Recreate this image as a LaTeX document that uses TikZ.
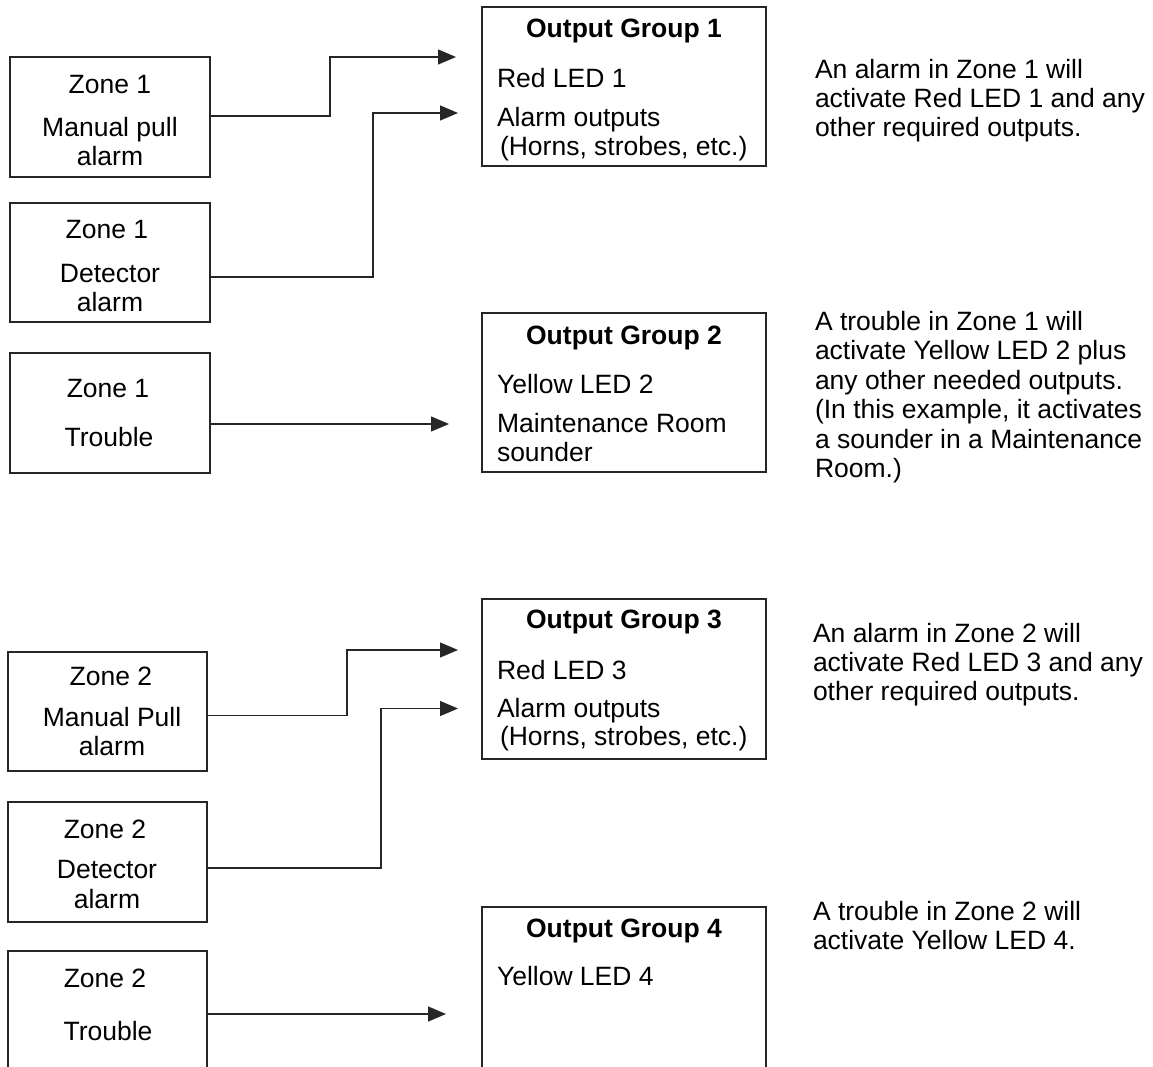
\documentclass[tikz,border=0pt]{standalone}
\usepackage{fontspec}
\setmainfont{Liberation Sans}
\usetikzlibrary{arrows.meta}
\tikzset{
  box/.style={draw=black!85, line width=1.2pt, inner sep=0pt, outer sep=0pt, rectangle},
  txt/.style={inner sep=0pt, outer sep=0pt, font=\fontsize{26.5}{29.5}\selectfont},
  ctr/.style={txt, anchor=base},
  lft/.style={txt, anchor=base west},
  ttl/.style={txt, anchor=base, font=\fontsize{26.5}{29.5}\selectfont\bfseries},
  arr/.style={draw=black!85, line width=1.2pt, -{Triangle[length=18pt,width=15pt]}}
}
\begin{document}
\begin{tikzpicture}[x=1pt,y=-1pt]
\useasboundingbox[fill=white] (0,0) rectangle (1153,1067);

% ---------- zone boxes ----------
\node[box, minimum width=200pt, minimum height=120pt] (z1m) at (110,117) {};
\node[box, minimum width=200pt, minimum height=119pt] (z1d) at (110,262.5) {};
\node[box, minimum width=200pt, minimum height=120pt] (z1t) at (110,413) {};
\node[box, minimum width=199pt, minimum height=119pt] (z2m) at (107.5,711.5) {};
\node[box, minimum width=199pt, minimum height=120pt] (z2d) at (107.5,862) {};
\node[box, minimum width=199pt, minimum height=160pt] (z2t) at (107.5,1031) {};

% ---------- output boxes ----------
\node[box, minimum width=284pt, minimum height=159pt] (og1) at (624,86.5) {};
\node[box, minimum width=284pt, minimum height=159pt] (og2) at (624,392.5) {};
\node[box, minimum width=284pt, minimum height=160pt] (og3) at (624,679) {};
\node[box, minimum width=284pt, minimum height=200pt] (og4) at (624,1007) {};

% ---------- zone texts ----------
\node[ctr] (z1m1) at (110,94) {Zone 1};
\node[ctr] (z1m2) at (110,137) {Manual pull};
\node[ctr] (z1m3) at (110,166) {alarm};
\node[ctr] (z1d1) at (107,239) {Zone 1};
\node[ctr] (z1d2) at (110,282) {Detector};
\node[ctr] (z1d3) at (110,311) {alarm};
\node[ctr] (z1t1) at (108,397) {Zone 1};
\node[ctr] (z1t2) at (109,446) {Trouble};

\node[ctr] (z2m1) at (111,685) {Zone 2};
\node[ctr] (z2m2) at (112,726) {Manual Pull};
\node[ctr] (z2m3) at (112,755.5) {alarm};
\node[ctr] (z2d1) at (105,838) {Zone 2};
\node[ctr] (z2d2) at (107,878) {Detector};
\node[ctr] (z2d3) at (107,908) {alarm};
\node[ctr] (z2t1) at (105,987) {Zone 2};
\node[ctr] (z2t2) at (108,1040) {Trouble};

% ---------- output group texts ----------
\node[ttl] (og1a) at (624,38) {Output Group 1};
\node[lft] (og1b) at (497,88) {Red LED 1};
\node[lft] (og1c) at (497,127) {Alarm outputs};
\node[lft] (og1d) at (500,156) {(Horns, strobes, etc.)};

\node[ttl] (og2a) at (624,344) {Output Group 2};
\node[lft] (og2b) at (497,393) {Yellow LED 2};
\node[lft] (og2c) at (497,432) {Maintenance Room};
\node[lft] (og2d) at (497,461) {sounder};

\node[ttl] (og3a) at (624,628) {Output Group 3};
\node[lft] (og3b) at (497,679) {Red LED 3};
\node[lft] (og3c) at (497,717) {Alarm outputs};
\node[lft] (og3d) at (500,745) {(Horns, strobes, etc.)};

\node[ttl] (og4a) at (624,937) {Output Group 4};
\node[lft] (og4b) at (497,985) {Yellow LED 4};

% ---------- explanations ----------
\node[lft] (e1a) at (815,79) {An alarm in Zone 1 will};
\node[lft] (e1b) at (815,108) {activate Red LED 1 and any};
\node[lft] (e1c) at (815,137) {other required outputs.};

\node[lft] (e2a) at (815,330) {A trouble in Zone 1 will};
\node[lft] (e2b) at (815,359.5) {activate Yellow LED 2 plus};
\node[lft] (e2c) at (815,389) {any other needed outputs.};
\node[lft] (e2d) at (815,418.5) {(In this example, it activates};
\node[lft] (e2e) at (815,448) {a sounder in a Maintenance};
\node[lft] (e2f) at (815,477.5) {Room.)};

\node[lft] (e3a) at (813,642) {An alarm in Zone 2 will};
\node[lft] (e3b) at (813,671) {activate Red LED 3 and any};
\node[lft] (e3c) at (813,700) {other required outputs.};

\node[lft] (e4a) at (813,920) {A trouble in Zone 2 will};
\node[lft] (e4b) at (813,949.5) {activate Yellow LED 4.};

% ---------- arrow end points ----------
\coordinate (in1a) at (456,57);
\coordinate (in1b) at (458,113);
\coordinate (in2) at (449,424);
\coordinate (in3a) at (458,650);
\coordinate (in3b) at (458,708.5);
\coordinate (in4) at (446,1014);

% ---------- connectors ----------
\draw[arr] (z1m.east |- 0,116) -- (330,116) |- (in1a);
\draw[arr] (z1d.east |- 0,277) -- (373,277) |- (in1b);
\draw[arr] (z1t.east |- in2) -- (in2);
\draw[arr] (z2m.east |- 0,715.5) -- (347,715.5) |- (in3a);
\draw[arr] (z2d.east |- 0,868) -- (381,868) |- (in3b);
\draw[arr] (z2t.east |- in4) -- (in4);
\end{tikzpicture}
\end{document}
